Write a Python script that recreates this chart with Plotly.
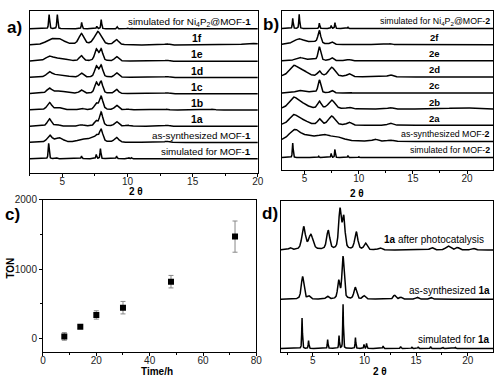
import numpy as np
import plotly.graph_objects as go

# ---------------- data (peak lists: centre 2theta, height, FWHM) -------------
# panel a  (heights in units of trace spacing)
a_names = ["simulated for MOF-<b>1</b>", "as-synthesized MOF-<b>1</b>", "1a", "1b", "1c", "1d", "1e", "1f",
           "simulated for Ni<sub>4</sub>P<sub>2</sub>@MOF-<b>1</b>"]
a_sim_mof1 = [(3.95, 0.95, 0.09), (4.6, 0.05, 0.08), (6.47, 0.16, 0.08), (7.6, 0.26, 0.08), (7.92, 0.62, 0.08),
              (9.16, 0.16, 0.08), (10.1, 0.06, 0.08), (10.3, 0.06, 0.08), (11.9, 0.03, 0.08)]
a_as_mof1 = [(4.02, 0.42, 0.42), (4.75, 0.27, 0.7), (6.5, 0.17, 0.8), (7.25, 0.22, 0.7), (7.62, 0.3, 0.3),
             (7.97, 0.75, 0.32), (9.15, 0.3, 0.4), (13.0, 0.07, 0.4)]
a_1a = [(4.0, 0.46, 0.36), (4.6, 0.08, 0.4), (6.45, 0.08, 0.4), (7.57, 0.3, 0.28), (7.97, 0.86, 0.3),
        (9.15, 0.28, 0.35), (10.0, 0.06, 0.3), (13.0, 0.06, 0.4)]
a_1b = [(4.0, 0.46, 0.4), (4.7, 0.14, 0.6), (6.45, 0.1, 0.4), (7.58, 0.36, 0.32), (7.97, 0.82, 0.32),
        (9.15, 0.28, 0.35), (10.0, 0.05, 0.3), (13.0, 0.05, 0.4), (16.5, 0.05, 0.5)]
a_1c = [(4.0, 0.3, 0.45), (4.8, 0.15, 1.2), (6.45, 0.22, 0.35), (7.6, 0.66, 0.3), (7.97, 0.72, 0.3),
        (9.15, 0.26, 0.35), (13.0, 0.06, 0.4)]
a_1d = [(4.0, 0.3, 0.5), (4.8, 0.18, 1.2), (6.45, 0.26, 0.35), (7.6, 0.66, 0.3), (7.97, 0.72, 0.3),
        (9.15, 0.28, 0.35), (13.0, 0.06, 0.4)]
a_1e = [(4.0, 0.26, 0.7), (4.8, 0.16, 1.2), (6.45, 0.33, 0.35), (7.6, 0.7, 0.3), (7.97, 0.72, 0.3),
        (9.15, 0.28, 0.35), (13.0, 0.06, 0.4)]
a_1f = [(4.1, 0.3, 0.9), (4.8, 0.3, 0.9), (6.45, 0.68, 0.45), (7.72, 0.82, 0.62), (9.15, 0.32, 0.4),
        (13.0, 0.07, 0.4), (19.5, 0.1, 1.5)]
a_sim_ni = [(3.98, 0.87, 0.09), (4.61, 0.87, 0.09), (6.48, 0.4, 0.08), (7.64, 0.15, 0.08), (7.98, 0.57, 0.08),
            (9.2, 0.12, 0.08), (10.0, 0.05, 0.08), (10.3, 0.05, 0.08)]

# panel b
b_names = ["simulated for MOF-<b>2</b>", "as-synthesized MOF-<b>2</b>", "2a", "2b", "2c", "2d", "2e", "2f",
           "simulated for Ni<sub>4</sub>P<sub>2</sub>@MOF-<b>2</b>"]
b_sim_mof2 = [(3.9, 0.9, 0.09), (4.5, 0.03, 0.08), (6.3, 0.08, 0.08), (7.45, 0.25, 0.08), (7.8, 0.5, 0.08),
              (9.0, 0.12, 0.08), (10.0, 0.05, 0.08)]
b_as_mof2 = [(4.1, 0.7, 1.3), (5.3, 0.2, 1.2), (6.8, 0.38, 1.8), (8.2, 0.16, 1.2), (11.5, 0.13, 0.5),
             (12.9, 0.08, 0.5)]
b_2a = [(4.0, 0.62, 1.0), (4.9, 0.25, 1.0), (6.36, 0.36, 0.4), (7.5, 0.56, 0.7), (9.1, 0.18, 0.45),
        (12.9, 0.13, 0.5)]
b_2b = [(4.0, 0.7, 1.0), (4.9, 0.25, 1.0), (6.36, 0.45, 0.4), (7.5, 0.55, 0.7), (9.1, 0.1, 0.5),
        (12.9, 0.09, 0.5), (19.5, 0.08, 3.0)]
b_2c = [(4.5, 0.16, 0.8), (5.6, 0.06, 1.0), (6.36, 0.8, 0.28), (7.5, 0.16, 0.35), (9.1, 0.06, 0.4)]
b_2d = [(4.0, 0.66, 1.0), (4.9, 0.3, 1.0), (6.36, 0.32, 0.4), (7.5, 0.58, 0.7), (9.1, 0.18, 0.45),
        (12.9, 0.13, 0.5)]
b_2e = [(4.5, 0.2, 0.8), (5.6, 0.08, 1.0), (6.36, 0.84, 0.28), (7.5, 0.18, 0.35), (9.1, 0.08, 0.4)]
b_2f = [(4.5, 0.34, 1.2), (5.8, 0.14, 1.2), (6.36, 0.78, 0.3), (7.5, 0.16, 0.35), (9.0, 0.05, 0.4),
        (12.9, 0.05, 0.5)]
b_sim_ni = [(3.9, 0.63, 0.09), (4.5, 0.88, 0.09), (6.36, 0.33, 0.08), (7.45, 0.18, 0.08), (7.8, 0.37, 0.08),
            (9.0, 0.08, 0.08), (10.0, 0.04, 0.08)]

# panel c
time_h = [8, 14, 20, 30, 48, 72]
ton = [30, 170, 340, 445, 820, 1470]
ton_err = [55, 25, 60, 90, 90, 225]

# panel d
d_names = ["simulated for <b>1a</b>", "as-synthesized <b>1a</b>", "<b>1a</b> after photocatalysis"]
d_sim_1a = [(3.95, 0.62, 0.08), (4.58, 0.16, 0.08), (6.43, 0.18, 0.08), (7.53, 0.26, 0.08), (7.92, 0.9, 0.08),
            (9.12, 0.22, 0.08), (9.95, 0.08, 0.08), (10.2, 0.1, 0.08), (11.8, 0.05, 0.08), (13.5, 0.04, 0.08),
            (14.6, 0.03, 0.08), (15.2, 0.03, 0.08), (16.4, 0.04, 0.08), (17.6, 0.02, 0.08), (18.8, 0.02, 0.08)]
d_as_1a = [(4.0, 0.46, 0.3), (4.6, 0.06, 0.3), (6.4, 0.06, 0.3), (7.5, 0.36, 0.25), (7.92, 0.86, 0.25),
           (9.1, 0.24, 0.3), (9.95, 0.07, 0.3), (12.9, 0.08, 0.3), (13.5, 0.04, 0.3), (15.1, 0.04, 0.3),
           (16.4, 0.04, 0.3)]
d_after_1a = [(2.8, 0.04, 0.3), (4.1, 0.46, 0.4), (4.8, 0.3, 0.5), (6.48, 0.39, 0.35), (7.62, 0.8, 0.3),
              (7.98, 0.64, 0.3), (9.2, 0.36, 0.35), (10.1, 0.13, 0.35), (11.5, 0.04, 0.4), (16.5, 0.05, 0.4),
              (18.1, 0.08, 0.5), (19.0, 0.05, 0.4), (20.5, 0.04, 0.4)]

a_traces = [a_sim_mof1, a_as_mof1, a_1a, a_1b, a_1c, a_1d, a_1e, a_1f, a_sim_ni]
b_traces = [b_sim_mof2, b_as_mof2, b_2a, b_2b, b_2c, b_2d, b_2e, b_2f, b_sim_ni]
d_traces = [d_sim_1a, d_as_1a, d_after_1a]


def pattern(x, peaks):
    y = np.zeros_like(x)
    for c, h, w in peaks:
        u = (x - c) / w
        y += h * (0.5 * np.exp(-4 * np.log(2) * u * u) + 0.5 / (1 + 4 * u * u))
    return y


W, H = 500, 377


def dom_x(p0, p1):
    return [p0 / W, p1 / W]


def dom_y(top, bot):
    return [1 - bot / H, 1 - top / H]


fig = go.Figure()
LINE = dict(color="black", width=1.5)
FONT = "Liberation Sans, Arial, sans-serif"

xa = np.linspace(2.5, 20, 3000)
for i, pk in enumerate(a_traces):
    fig.add_trace(go.Scatter(x=xa, y=0.9 + i + pattern(xa, pk), mode="lines", line=LINE,
                             xaxis="x", yaxis="y", showlegend=False, hoverinfo="skip"))
xb = np.linspace(2.9, 22.4, 3000)
for i, pk in enumerate(b_traces):
    fig.add_trace(go.Scatter(x=xb, y=0.79 + i + pattern(xb, pk), mode="lines", line=LINE,
                             xaxis="x2", yaxis="y2", showlegend=False, hoverinfo="skip"))
fig.add_trace(go.Scatter(x=time_h, y=ton, mode="markers",
                         marker=dict(symbol="square", size=6, color="black"),
                         error_y=dict(type="data", array=ton_err, color="#888", thickness=1, width=2.5),
                         xaxis="x3", yaxis="y3", showlegend=False))
xd = np.linspace(1.9, 22.45, 3000)
for i, pk in enumerate(d_traces):
    fig.add_trace(go.Scatter(x=xd, y=0.08 + i + pattern(xd, pk), mode="lines", line=LINE,
                             xaxis="x4", yaxis="y4", showlegend=False, hoverinfo="skip"))

tickfont = dict(family=FONT, size=10, color="#222")
frame = dict(showline=True, linecolor="black", linewidth=1, mirror=True, showgrid=False, zeroline=False)


def xtick(dt):
    return dict(ticks="outside", ticklen=3, tickwidth=1, tickcolor="black", tickfont=tickfont,
                ticklabelstandoff=-4,
                minor=dict(ticks="outside", ticklen=2, tickcolor="black", dtick=dt, tick0=0))


fig.update_layout(
    width=W, height=H, margin=dict(l=0, r=0, t=0, b=0),
    paper_bgcolor="white", plot_bgcolor="white",
    xaxis=dict(domain=dom_x(27.3, 259.5), range=[2.5, 20], tickvals=[5, 10, 15, 20],
               **frame, **xtick(2.5), anchor="y"),
    yaxis=dict(domain=dom_y(5, 170), range=[0, 10], showticklabels=False, ticks="", **frame, anchor="x"),
    xaxis2=dict(domain=dom_x(284, 499), range=[2.9, 22.4], tickvals=[5, 10, 15, 20],
                **frame, **xtick(2.5), anchor="y2"),
    yaxis2=dict(domain=dom_y(5, 167), range=[0, 9.88], showticklabels=False, ticks="", **frame, anchor="x2"),
    xaxis3=dict(domain=dom_x(40.7, 258), range=[0, 80], tickvals=[0, 20, 40, 60, 80],
                **frame, **xtick(10), anchor="y3"),
    yaxis3=dict(domain=dom_y(197, 352), range=[-200, 2000], tickvals=[0, 1000, 2000],
                **frame, ticks="outside", ticklen=3, tickcolor="black", tickfont=tickfont,
                minor=dict(ticks="outside", ticklen=2, tickcolor="black", tickvals=[500, 1500]),
                anchor="x3"),
    xaxis4=dict(domain=dom_x(283, 499), range=[1.9, 22.45], tickvals=[5, 10, 15, 20],
                **frame, **xtick(2.5), anchor="y4"),
    yaxis4=dict(domain=dom_y(198, 352), range=[0, 3.08], showticklabels=False, ticks="", **frame, anchor="x4"),
)

ann = []
bold_font = dict(family=FONT, size=10.5, color="black")
for i, n in enumerate(a_names):
    yb = 0.9 + i + 0.42
    if i in (0, 1, 8):
        ann.append(dict(x=19.6, y=yb, xref="x", yref="y", text=n, showarrow=False,
                        xanchor="right", yanchor="middle", font=dict(family=FONT, size=9.8, color="black")))
    else:
        ann.append(dict(x=15.3, y=yb, xref="x", yref="y", text="<b>%s</b>" % n, showarrow=False,
                        xanchor="center", yanchor="middle", font=bold_font))
for i, n in enumerate(b_names):
    yb = 0.79 + i + 0.44
    if i in (0, 1, 8):
        ann.append(dict(x=22.35, y=yb, xref="x2", yref="y2", text=n, showarrow=False,
                        xanchor="right", yanchor="middle", font=dict(family=FONT, size=8.8, color="black")))
    else:
        ann.append(dict(x=17.0, y=yb, xref="x2", yref="y2", text="<b>%s</b>" % n, showarrow=False,
                        xanchor="center", yanchor="middle", font=dict(family=FONT, size=9.5, color="black")))
d_lab_x = [22.35, 22.35, 21.8]
d_lab_y = [0.08 + 0.18, 1.08 + 0.18, 2.08 + 0.21]
for n, lx, ly in zip(d_names, d_lab_x, d_lab_y):
    ann.append(dict(x=lx, y=ly, xref="x4", yref="y4", text=n, showarrow=False,
                    xanchor="right", yanchor="middle", font=dict(family=FONT, size=10, color="black")))


def paper_text(px, py, text, size, bold=True, angle=0):
    return dict(x=px / W, y=1 - py / H, xref="paper", yref="paper", text=("<b>%s</b>" % text) if bold else text,
                showarrow=False, xanchor="center", yanchor="middle", textangle=angle,
                font=dict(family=FONT, size=size, color="black"))


ann += [
    paper_text(12, 22, "a)", 17), paper_text(273, 19, "b)", 17),
    paper_text(10, 212, "c)", 17), paper_text(272, 211, "d)", 17),
    paper_text(135, 188, "2 θ", 10), paper_text(360, 191, "2 θ", 10),
    paper_text(384, 371, "2 θ", 10),
    paper_text(157, 371, "Time/h", 10), paper_text(8, 266, "TON", 10, angle=-90),
]
fig.update_layout(annotations=ann)
fig.write_html("out.html", config={"displayModeBar": False},
               post_script="document.body.style.margin='0px';")
